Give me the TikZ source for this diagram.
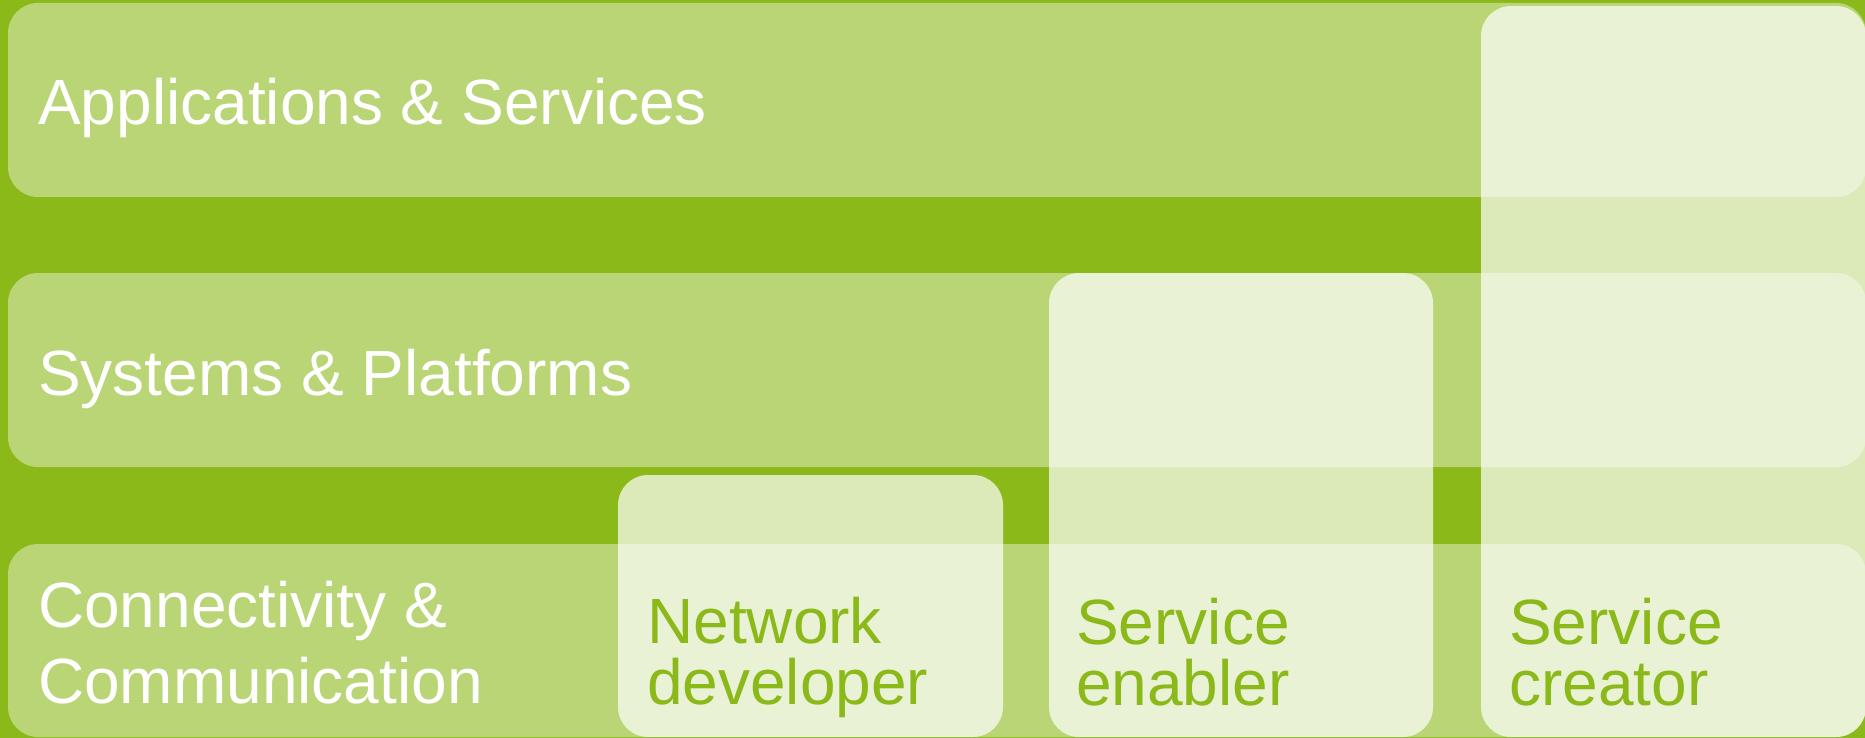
\documentclass[tikz,border=0pt]{standalone}
\usepackage{fontspec}
\setmainfont{Liberation Sans}
\definecolor{bggreen}{HTML}{8BB919}
\tikzset{
  band/.style={fill=white, fill opacity=0.4, rounded corners=30pt},
  role/.style={fill=white, fill opacity=0.7, rounded corners=30pt},
  bandtext/.style={text=white, inner sep=0pt, anchor=base west, align=left,
    font=\fontsize{64pt}{76pt}\selectfont},
  roletext/.style={text=bggreen, inner sep=0pt, anchor=base west, align=left,
    font=\fontsize{64pt}{61pt}\selectfont}
}
\begin{document}
\begin{tikzpicture}[x=1pt,y=-1pt]
  \fill[bggreen] (0,0) rectangle (1865,738);
  \useasboundingbox (0,0) rectangle (1865,738);
  % bands
  \fill[band] (8,3) rectangle (1866,197);
  \fill[band] (8,273) rectangle (1866,467);
  \fill[band] (8,544) rectangle (1866,737);
  % role boxes
  \fill[role] (618,475) rectangle (1003,737);
  \fill[role] (1049,273) rectangle (1433,737);
  \fill[role] (1481,6) rectangle (1866,737);
  % texts (base anchor = baseline of the last line)
  \node[bandtext] (apps) at (38,125) {Applications \& Services};
  \node[bandtext] (sys) at (38,395) {Systems \& Platforms};
  \node[bandtext] (conn) at (38,703) {Connectivity \&\\Communication};
  \node[roletext] (netdev) at (647,704) {Network\\developer};
  \node[roletext] (senab) at (1076,705) {Service\\enabler};
  \node[roletext] (screat) at (1509,705) {Service\\creator};
\end{tikzpicture}
\end{document}
